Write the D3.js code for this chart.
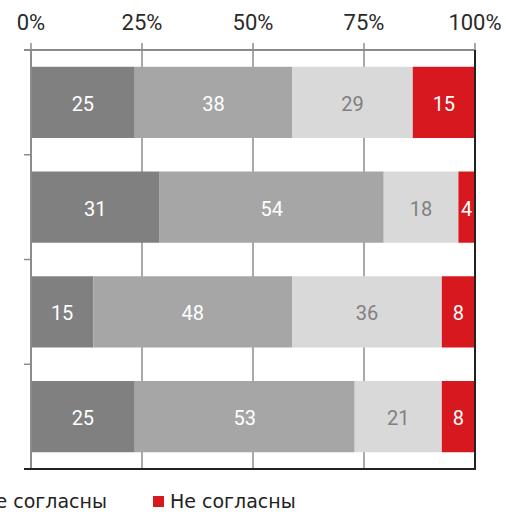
<!DOCTYPE html>
<html>
<head>
<meta charset="utf-8">
<script src="https://cdn.jsdelivr.net/npm/d3@7"></script>
<style>
  body { margin: 0; background: #fff; }
  #chart { width: 505px; height: 512px; overflow: hidden; }
</style>
</head>
<body>
<div id="chart"></div>
<script>
// rows of the chart, top to bottom (no labels shown in the picture)
var rows = ["r1", "r2", "r3", "r4"];
var seriesNames = ["Полностью согласны", "Скорее согласны", "Скорее не согласны", "Не согласны"];
var fullyAgree   = [25, 31, 15, 25];
var ratherAgree  = [38, 54, 48, 53];
var ratherNot    = [29, 18, 36, 21];
var disagree     = [15, 4, 8, 8];
var tickValues = [0, 0.25, 0.5, 0.75, 1];

var colors = ["#808080", "#a6a6a6", "#d9d9d9", "#d7191f"];
var labelColors = ["#ffffff", "#ffffff", "#808080", "#ffffff"];

var width = 505, height = 512;
var plotLeft = 31, plotRight = 475, plotTop = 50, plotBottom = 469;

var table = rows.map(function(r, i) {
    return { row: r, s0: fullyAgree[i], s1: ratherAgree[i], s2: ratherNot[i], s3: disagree[i] };
});

var stacked = d3.stack()
    .keys(["s0", "s1", "s2", "s3"])
    .offset(d3.stackOffsetExpand)(table);

var svg = d3.select("#chart")
    .append("svg")
    .attr("width", width)
    .attr("height", height);

var x = d3.scaleLinear().domain([0, 1]).range([plotLeft, plotRight]);
var y = d3.scaleBand().domain(rows).range([plotTop, plotBottom]).paddingInner(0.32).paddingOuter(0.16);

// gridlines and top ticks
svg.selectAll("line.grid")
    .data(tickValues)
    .enter()
    .append("line")
        .attr("class", "grid")
        .attr("x1", function(d) { return x(d); })
        .attr("x2", function(d) { return x(d); })
        .attr("y1", plotTop - 7)
        .attr("y2", function(d) { return (d === 0 || d === 1) ? plotTop : plotBottom; })
        .attr("stroke", "#8c8c8c")
        .attr("stroke-width", 1.5);

// bars
var groups = svg.selectAll("g.series")
    .data(stacked)
    .enter()
    .append("g")
        .attr("class", "series")
        .attr("fill", function(d, i) { return colors[i]; });

groups.selectAll("rect")
    .data(function(d) { return d; })
    .enter()
    .append("rect")
        .attr("x", function(d) { return x(d[0]); })
        .attr("y", function(d) { return y(d.data.row); })
        .attr("width", function(d) { return x(d[1]) - x(d[0]); })
        .attr("height", y.bandwidth());

groups.each(function(s, si) {
    d3.select(this).selectAll("text")
        .data(s)
        .enter()
        .append("text")
            .attr("x", function(d) { return (x(d[0]) + x(d[1])) / 2; })
            .attr("y", function(d) { return y(d.data.row) + y.bandwidth() / 2; })
            .attr("dy", "0.42em")
            .attr("text-anchor", "middle")
            .attr("fill", labelColors[si])
            .style("font-family", "Roboto, sans-serif")
            .style("font-size", "20px")
            .text(function(d) { return d.data[s.key]; });
});

// top axis line
svg.append("line")
    .attr("x1", plotLeft - 7).attr("x2", plotRight)
    .attr("y1", plotTop).attr("y2", plotTop)
    .attr("stroke", "#8c8c8c").attr("stroke-width", 2);

// left axis line with ticks between rows
svg.append("line")
    .attr("x1", plotLeft).attr("x2", plotLeft)
    .attr("y1", plotTop).attr("y2", plotBottom)
    .attr("stroke", "#8c8c8c").attr("stroke-width", 2);

var step = y.step();
svg.selectAll("line.ytick")
    .data(rows.slice(1))
    .enter()
    .append("line")
        .attr("class", "ytick")
        .attr("x1", plotLeft - 7).attr("x2", plotLeft)
        .attr("y1", function(d) { return y(d) - step * 0.16; })
        .attr("y2", function(d) { return y(d) - step * 0.16; })
        .attr("stroke", "#8c8c8c").attr("stroke-width", 1.5);

// bottom and right borders
svg.append("line")
    .attr("x1", plotLeft - 7).attr("x2", plotRight + 1)
    .attr("y1", plotBottom).attr("y2", plotBottom)
    .attr("stroke", "#222").attr("stroke-width", 2);

svg.append("line")
    .attr("x1", plotRight).attr("x2", plotRight)
    .attr("y1", plotTop).attr("y2", plotBottom)
    .attr("stroke", "#222").attr("stroke-width", 2);

// tick labels
svg.selectAll("text.tick")
    .data(tickValues)
    .enter()
    .append("text")
        .attr("class", "tick")
        .attr("x", function(d) { return x(d); })
        .attr("y", 30)
        .attr("text-anchor", "middle")
        .attr("fill", "#2a2a2a")
        .style("font-family", "Roboto, sans-serif")
        .style("font-size", "22px")
        .text(function(d) { return d3.format(".0%")(d); });

// legend, laid out right to left so the last item sits at x=153
var legend = svg.append("g").attr("class", "legend");
var edge = 153;
for (var i = seriesNames.length - 1; i >= 0; i--) {
    var t = legend.append("text")
        .attr("y", 508)
        .attr("fill", "#222")
        .style("font-family", "'DejaVu Sans', Verdana, sans-serif")
        .style("font-size", "19px")
        .text(seriesNames[i]);
    var w = t.node().getComputedTextLength();
    if (i < seriesNames.length - 1) {
        edge = edge - 46 - w - 17;
    }
    t.attr("x", edge + 17);
    legend.append("rect")
        .attr("x", edge)
        .attr("y", 496)
        .attr("width", 11)
        .attr("height", 11)
        .attr("fill", colors[i]);
}
</script>
</body>
</html>
